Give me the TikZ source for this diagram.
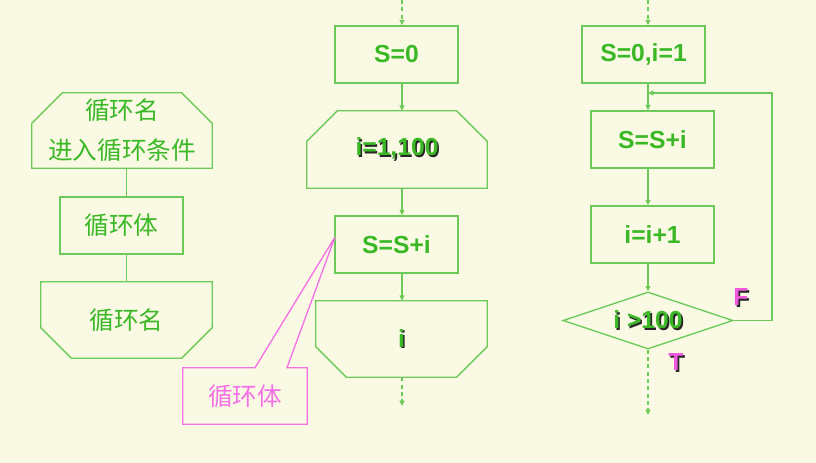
\documentclass[tikz,border=0pt]{standalone}
\usepackage{fontspec}
\setmainfont{Liberation Sans}
\newfontfamily\cjk{Noto Sans CJK SC}
\usetikzlibrary{arrows.meta,calc,shapes.geometric}

\definecolor{bgYellow}{RGB}{250,250,228}
\definecolor{lnGreen}{RGB}{108,202,88}
\definecolor{txtGreen}{RGB}{58,184,38}
\definecolor{notePink}{RGB}{244,112,228}
\definecolor{tfPink}{RGB}{238,88,220}

\def\cham{23pt}
% text with a dark drop shadow
\newcommand{\shd}[1]{\leavevmode\rlap{\kern1.2pt\raisebox{-1.2pt}{\color{black!85}#1}}#1}
% loop head: top corners cut off
\newcommand{\headline}[1]{\draw[ln] ([xshift=\cham]#1.north west) -- ([xshift=-\cham]#1.north east) -- ([yshift=-\cham]#1.north east) -- (#1.south east) -- (#1.south west) -- ([yshift=-\cham]#1.north west) -- cycle;}
% loop tail: bottom corners cut off
\newcommand{\tailline}[1]{\draw[ln] (#1.north west) -- (#1.north east) -- ([yshift=\cham]#1.south east) -- ([xshift=-\cham]#1.south east) -- ([xshift=\cham]#1.south west) -- ([yshift=\cham]#1.south west) -- cycle;}

\tikzset{
  ln/.style={draw=lnGreen, line width=1pt},
  arr/.style={ln, -{Triangle[length=4pt,width=3.6pt]}},
  dsh/.style={arr, dash pattern=on 3pt off 2.5pt},
  txt/.style={inner sep=0pt, text=txtGreen, font=\bfseries\fontsize{18.5}{22}\selectfont},
  cjktxt/.style={inner sep=0pt, text=txtGreen, font=\cjk\fontsize{18.5}{30}\selectfont, align=center},
  procbox/.style={txt, ln, rectangle, minimum width=92.25pt, minimum height=42.75pt},
  tfmark/.style={inner sep=0pt, text=tfPink, font=\bfseries\fontsize{18.5}{22}\selectfont},
}

\begin{document}
\begin{tikzpicture}[x=0.75pt,y=-0.75pt]
\fill[bgYellow] (0,0) rectangle (816,463);
\path[use as bounding box] (0,0) rectangle (816,463);

% general form
\node[cjktxt, minimum width=135pt, minimum height=56.25pt] (head1) at (122,130.5) {循环名\\进入循环条件};
\node[cjktxt, ln, rectangle, minimum width=92.25pt, minimum height=42.75pt] (body1) at (121.5,225.5) {循环体};
\node[cjktxt, minimum width=128.25pt, minimum height=57pt] (tail1) at (126.5,320) {循环名};
\headline{head1}
\tailline{tail1}
\draw[ln] (head1.south -| tail1) -- (body1.north -| tail1);
\draw[ln] (body1.south -| tail1) -- (tail1.north);

% summing with a counted loop
\node[procbox] (init2) at (396.5,54.5) {S=0};
\node[txt, minimum width=135pt, minimum height=57.75pt] (head2) at (397,149.5) {\shd{i=1,100}};
\node[procbox] (body2) at (396.5,244.5) {S=S+i};
\node[txt, minimum width=128.25pt, minimum height=57pt] (tail2) at (401.5,339) {\shd{i}};
\headline{head2}
\tailline{tail2}
\coordinate (in2) at (402,0);
\coordinate (out2) at (402,406);
\draw[dsh] (in2) -- (init2.north -| in2);
\draw[arr] (init2.south -| in2) -- (head2.north -| in2);
\draw[arr] (head2.south -| in2) -- (body2.north -| in2);
\draw[arr] (body2.south -| in2) -- (tail2.north -| in2);
\draw[dsh] (tail2.south -| in2) -- (out2);

% callout
\node[inner sep=0pt, text=notePink, font=\cjk\fontsize{18.5}{22}\selectfont, minimum width=93pt, minimum height=42pt] (note) at (245,396) {循环体};
\coordinate (tip) at (335,237);
\draw[notePink, line width=1pt] (note.north west) -- ($(note.north)+(10,0)$) -- (tip) -- ($(note.north)+(42,0)$) -- (note.north east) -- (note.south east) -- (note.south west) -- cycle;

% summing with a conditional loop
\node[procbox] (init3) at (643.5,54.5) {S=0,i=1};
\node[procbox] (body3) at (652.5,139.5) {S=S+i};
\node[procbox] (incr3) at (652.5,234.5) {i=i+1};
\node[txt, ln, diamond, aspect=3, minimum width=127.5pt, minimum height=42.75pt] (chk) at (648,320.5) {\shd{i >100}};
\coordinate (in3) at (648,0);
\coordinate (out3) at (648,415);
\coordinate (ret) at (772,93);
\coordinate (join) at (648,93);
\draw[dsh] (in3) -- (init3.north -| in3);
\draw[arr] (init3.south -| in3) -- (body3.north -| in3);
\draw[arr] (body3.south -| in3) -- (incr3.north -| in3);
\draw[arr] (incr3.south -| in3) -- (chk.north);
\draw[arr] (chk.east) -| (ret) -- (join);
\draw[dsh] (chk.south) -- (out3);
\node[tfmark] (fmark) at (741,298) {\shd{F}};
\node[tfmark] (tmark) at (676,363) {\shd{T}};

\end{tikzpicture}
\end{document}
